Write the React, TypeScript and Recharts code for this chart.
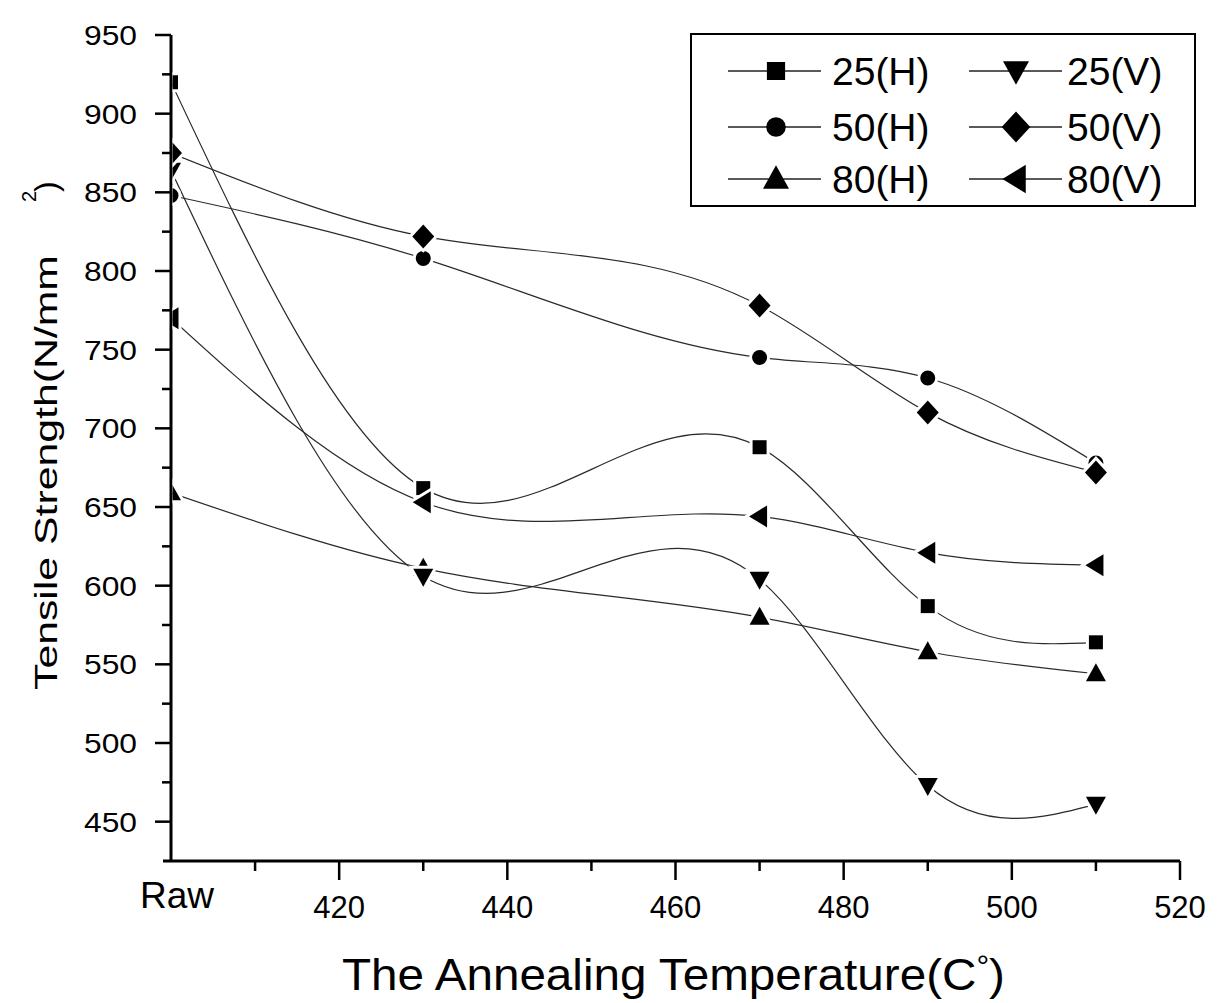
import React from 'react';
import { LineChart, Line, XAxis, YAxis } from 'recharts';

// annealing temperature, 400 is drawn as "Raw"
const temps = [400, 430, 470, 490, 510];

const strength25H = [920, 662, 688, 587, 564];
const strength50H = [848, 808, 745, 732, 678];
const strength80H = [659, 611, 580, 558, 544];
const strength25V = [864, 606, 604, 473, 461];
const strength50V = [875, 822, 778, 710, 672];
const strength80V = [770, 653, 644, 621, 613];

const xTicks = [400, 410, 420, 430, 440, 450, 460, 470, 480, 490, 500, 510, 520];
const yTicks = [450, 475, 500, 525, 550, 575, 600, 625, 650, 675, 700, 725, 750, 775, 800, 825, 850, 875, 900, 925, 950];

const FONT = '"Liberation Sans", Arial, Helvetica, sans-serif';
const PLOT_LEFT = 171;

type Shape = 'square' | 'circle' | 'up' | 'down' | 'diamond' | 'left';

const series: { key: string; name: string; shape: Shape; values: number[] }[] = [
  { key: 's25H', name: '25(H)', shape: 'square', values: strength25H },
  { key: 's50H', name: '50(H)', shape: 'circle', values: strength50H },
  { key: 's80H', name: '80(H)', shape: 'up', values: strength80H },
  { key: 's25V', name: '25(V)', shape: 'down', values: strength25V },
  { key: 's50V', name: '50(V)', shape: 'diamond', values: strength50V },
  { key: 's80V', name: '80(V)', shape: 'left', values: strength80V },
];

const data = temps.map((t, i) => {
  const row: Record<string, number> = { t };
  series.forEach((s) => (row[s.key] = s.values[i]));
  return row;
});

// natural cubic spline with y as a function of x (like Origin's spline line)
function splineX(context: any) {
  let xs: number[] = [];
  let ys: number[] = [];
  return {
    areaStart() {},
    areaEnd() {},
    lineStart() {
      xs = [];
      ys = [];
    },
    point(x: number, y: number) {
      xs.push(+x);
      ys.push(+y);
    },
    lineEnd() {
      const n = xs.length;
      if (!n) return;
      context.moveTo(xs[0], ys[0]);
      if (n === 1) return;
      if (n === 2) {
        context.lineTo(xs[1], ys[1]);
        return;
      }
      const h: number[] = [];
      const s: number[] = [];
      for (let i = 0; i < n - 1; i++) {
        h[i] = xs[i + 1] - xs[i];
        s[i] = (ys[i + 1] - ys[i]) / h[i];
      }
      const m = n - 2;
      const a: number[] = [], b: number[] = [], c: number[] = [], d: number[] = [];
      for (let k = 0; k < m; k++) {
        const i = k + 1;
        a[k] = h[i - 1];
        b[k] = 2 * (h[i - 1] + h[i]);
        c[k] = h[i];
        d[k] = 6 * (s[i] - s[i - 1]);
      }
      for (let k = 1; k < m; k++) {
        const w = a[k] / b[k - 1];
        b[k] -= w * c[k - 1];
        d[k] -= w * d[k - 1];
      }
      const sol: number[] = new Array(m);
      sol[m - 1] = d[m - 1] / b[m - 1];
      for (let k = m - 2; k >= 0; k--) sol[k] = (d[k] - c[k] * sol[k + 1]) / b[k];
      const M = [0, ...sol, 0];
      for (let i = 0; i < n - 1; i++) {
        const d0 = s[i] - (h[i] * (2 * M[i] + M[i + 1])) / 6;
        const d1 = s[i] + (h[i] * (M[i] + 2 * M[i + 1])) / 6;
        context.bezierCurveTo(
          xs[i] + h[i] / 3, ys[i] + (d0 * h[i]) / 3,
          xs[i + 1] - h[i] / 3, ys[i + 1] - (d1 * h[i]) / 3,
          xs[i + 1], ys[i + 1]
        );
      }
    },
  };
}

function markerPath(shape: Shape, cx: number, cy: number, k = 1) {
  switch (shape) {
    case 'square': {
      const h = 7 * k;
      return `M${cx - h},${cy - h}h${2 * h}v${2 * h}h${-2 * h}Z`;
    }
    case 'circle': {
      const r = 7.5 * k;
      return `M${cx - r},${cy}a${r},${r} 0 1,0 ${2 * r},0a${r},${r} 0 1,0 ${-2 * r},0Z`;
    }
    case 'up':
      return `M${cx},${cy - 10.5 * k}L${cx + 10 * k},${cy + 7.5 * k}L${cx - 10 * k},${cy + 7.5 * k}Z`;
    case 'down':
      return `M${cx - 10 * k},${cy - 7.5 * k}L${cx + 10 * k},${cy - 7.5 * k}L${cx},${cy + 10.5 * k}Z`;
    case 'diamond':
      return `M${cx},${cy - 12 * k}L${cx + 11 * k},${cy}L${cx},${cy + 12 * k}L${cx - 11 * k},${cy}Z`;
    case 'left':
      return `M${cx - 10.5 * k},${cy}L${cx + 7.5 * k},${cy - 11 * k}L${cx + 7.5 * k},${cy + 11 * k}Z`;
  }
}

function Marker({ cx, cy, shape, k = 1, halo = 6, clipId }: { cx: number; cy: number; shape: Shape; k?: number; halo?: number; clipId?: string }) {
  const d = markerPath(shape, cx, cy, k);
  return (
    <g>
      {clipId && (
        <defs>
          <clipPath id={clipId}>
            <rect x={PLOT_LEFT + 1.5} y={0} width={1100} height={1003} />
          </clipPath>
        </defs>
      )}
      <g clipPath={clipId ? `url(#${clipId})` : undefined}>
        {halo > 0 && <path d={d} fill="#fff" stroke="#fff" strokeWidth={halo} />}
        <path d={d} fill="#000" />
      </g>
    </g>
  );
}

function XTick(props: any) {
  const { x, y, payload } = props;
  const v = payload.value;
  if (v === 400) {
    return (
      <g>
        <line x1={x - 8} y1={y} x2={x} y2={y} stroke="#000" strokeWidth={3} />
        <text x={x + 6} y={y + 47} textAnchor="middle" fontSize={37} fill="#000">Raw</text>
      </g>
    );
  }
  const major = v % 20 === 0;
  return (
    <g>
      <line x1={x} y1={y} x2={x} y2={y + (major ? 19 : 10)} stroke="#000" strokeWidth={2.5} />
      {major && (
        <text x={x} y={y + 57} textAnchor="middle" fontSize={31} fill="#000">{v}</text>
      )}
    </g>
  );
}

function YTick(props: any) {
  const { x, y, payload } = props;
  const v = payload.value;
  const major = v % 50 === 0;
  return (
    <g>
      <line x1={x - (major ? 16 : 9)} y1={y} x2={x} y2={y} stroke="#000" strokeWidth={2.5} />
      {major && (
        <text x={x - 34} y={y + 10} textAnchor="end" fontSize={28} textLength={53} lengthAdjust="spacingAndGlyphs" fill="#000">
          {v}
        </text>
      )}
    </g>
  );
}

function LegendBox() {
  const rows = [38, 94, 146];
  const cols = [
    { x1: 38, x2: 131, m: 86, tx: 142 },
    { x1: 279, x2: 372, m: 326, tx: 377 },
  ];
  return (
    <svg width={506} height={174} style={{ position: 'absolute', left: 690, top: 33 }}>
      <rect x={1} y={1} width={504} height={172} fill="#fff" stroke="#000" strokeWidth={2} />
      {series.map((s, i) => {
        const c = cols[Math.floor(i / 3)];
        const y = rows[i % 3];
        return (
          <g key={s.key}>
            <line x1={c.x1} y1={y} x2={c.x2} y2={y} stroke="#222" strokeWidth={1.3} />
            <Marker cx={c.m} cy={y} shape={s.shape} k={1.3} halo={0} />
            <text x={c.tx} y={y + 14} fontSize={39} fill="#000" fontFamily={FONT}>{s.name}</text>
          </g>
        );
      })}
    </svg>
  );
}

export default function App() {
  return (
    <div style={{ position: 'absolute', left: 0, top: 0, width: 1232, height: 1003, background: '#fff', fontFamily: FONT }}>
      <LineChart width={1232} height={1003} data={data} margin={{ top: 35, right: 52, bottom: 0, left: 0 }} style={{ fontFamily: FONT }}>
        {series.map((s) => (
          <Line
            key={s.key}
            type={splineX as any}
            dataKey={s.key}
            name={s.name}
            stroke="#2a2a2a"
            strokeWidth={1.2}
            isAnimationActive={false}
            activeDot={false}
            dot={(p: any) => (
              <Marker
                key={`${s.key}-${p.index}`}
                cx={p.cx}
                cy={p.cy}
                shape={s.shape}
                clipId={p.index === 0 ? `clip-${s.key}-raw` : undefined}
              />
            )}
          />
        ))}
        <XAxis
          dataKey="t"
          type="number"
          domain={[400, 520]}
          ticks={xTicks}
          interval={0}
          allowDataOverflow
          height={142}
          tickSize={0}
          tickMargin={0}
          tickLine={false}
          tick={<XTick />}
          axisLine={{ stroke: '#000', strokeWidth: 3 }}
        />
        <YAxis
          type="number"
          domain={[425, 950]}
          ticks={yTicks}
          interval={0}
          allowDataOverflow
          width={171}
          tickSize={0}
          tickMargin={0}
          tickLine={false}
          tick={<YTick />}
          axisLine={{ stroke: '#000', strokeWidth: 3 }}
        />
      </LineChart>
      <svg width={1232} height={1003} style={{ position: 'absolute', left: 0, top: 0, pointerEvents: 'none' }} fontFamily={FONT}>
        <text transform="translate(57,690) rotate(-90)" fontSize={32} textLength={435} lengthAdjust="spacingAndGlyphs" fill="#000">
          Tensile Strength(N/mm
        </text>
        <text transform="translate(36,202) rotate(-90)" fontSize={20} fill="#000">2</text>
        <text transform="translate(57,192) rotate(-90)" fontSize={32} fill="#000">)</text>
        <text x={342} y={990} fontSize={45} textLength={663} lengthAdjust="spacingAndGlyphs" fill="#000">
          The Annealing Temperature(C<tspan dy={-14} fontSize={30}>°</tspan><tspan dy={14} fontSize={45}>)</tspan>
        </text>
      </svg>
      <LegendBox />
    </div>
  );
}
